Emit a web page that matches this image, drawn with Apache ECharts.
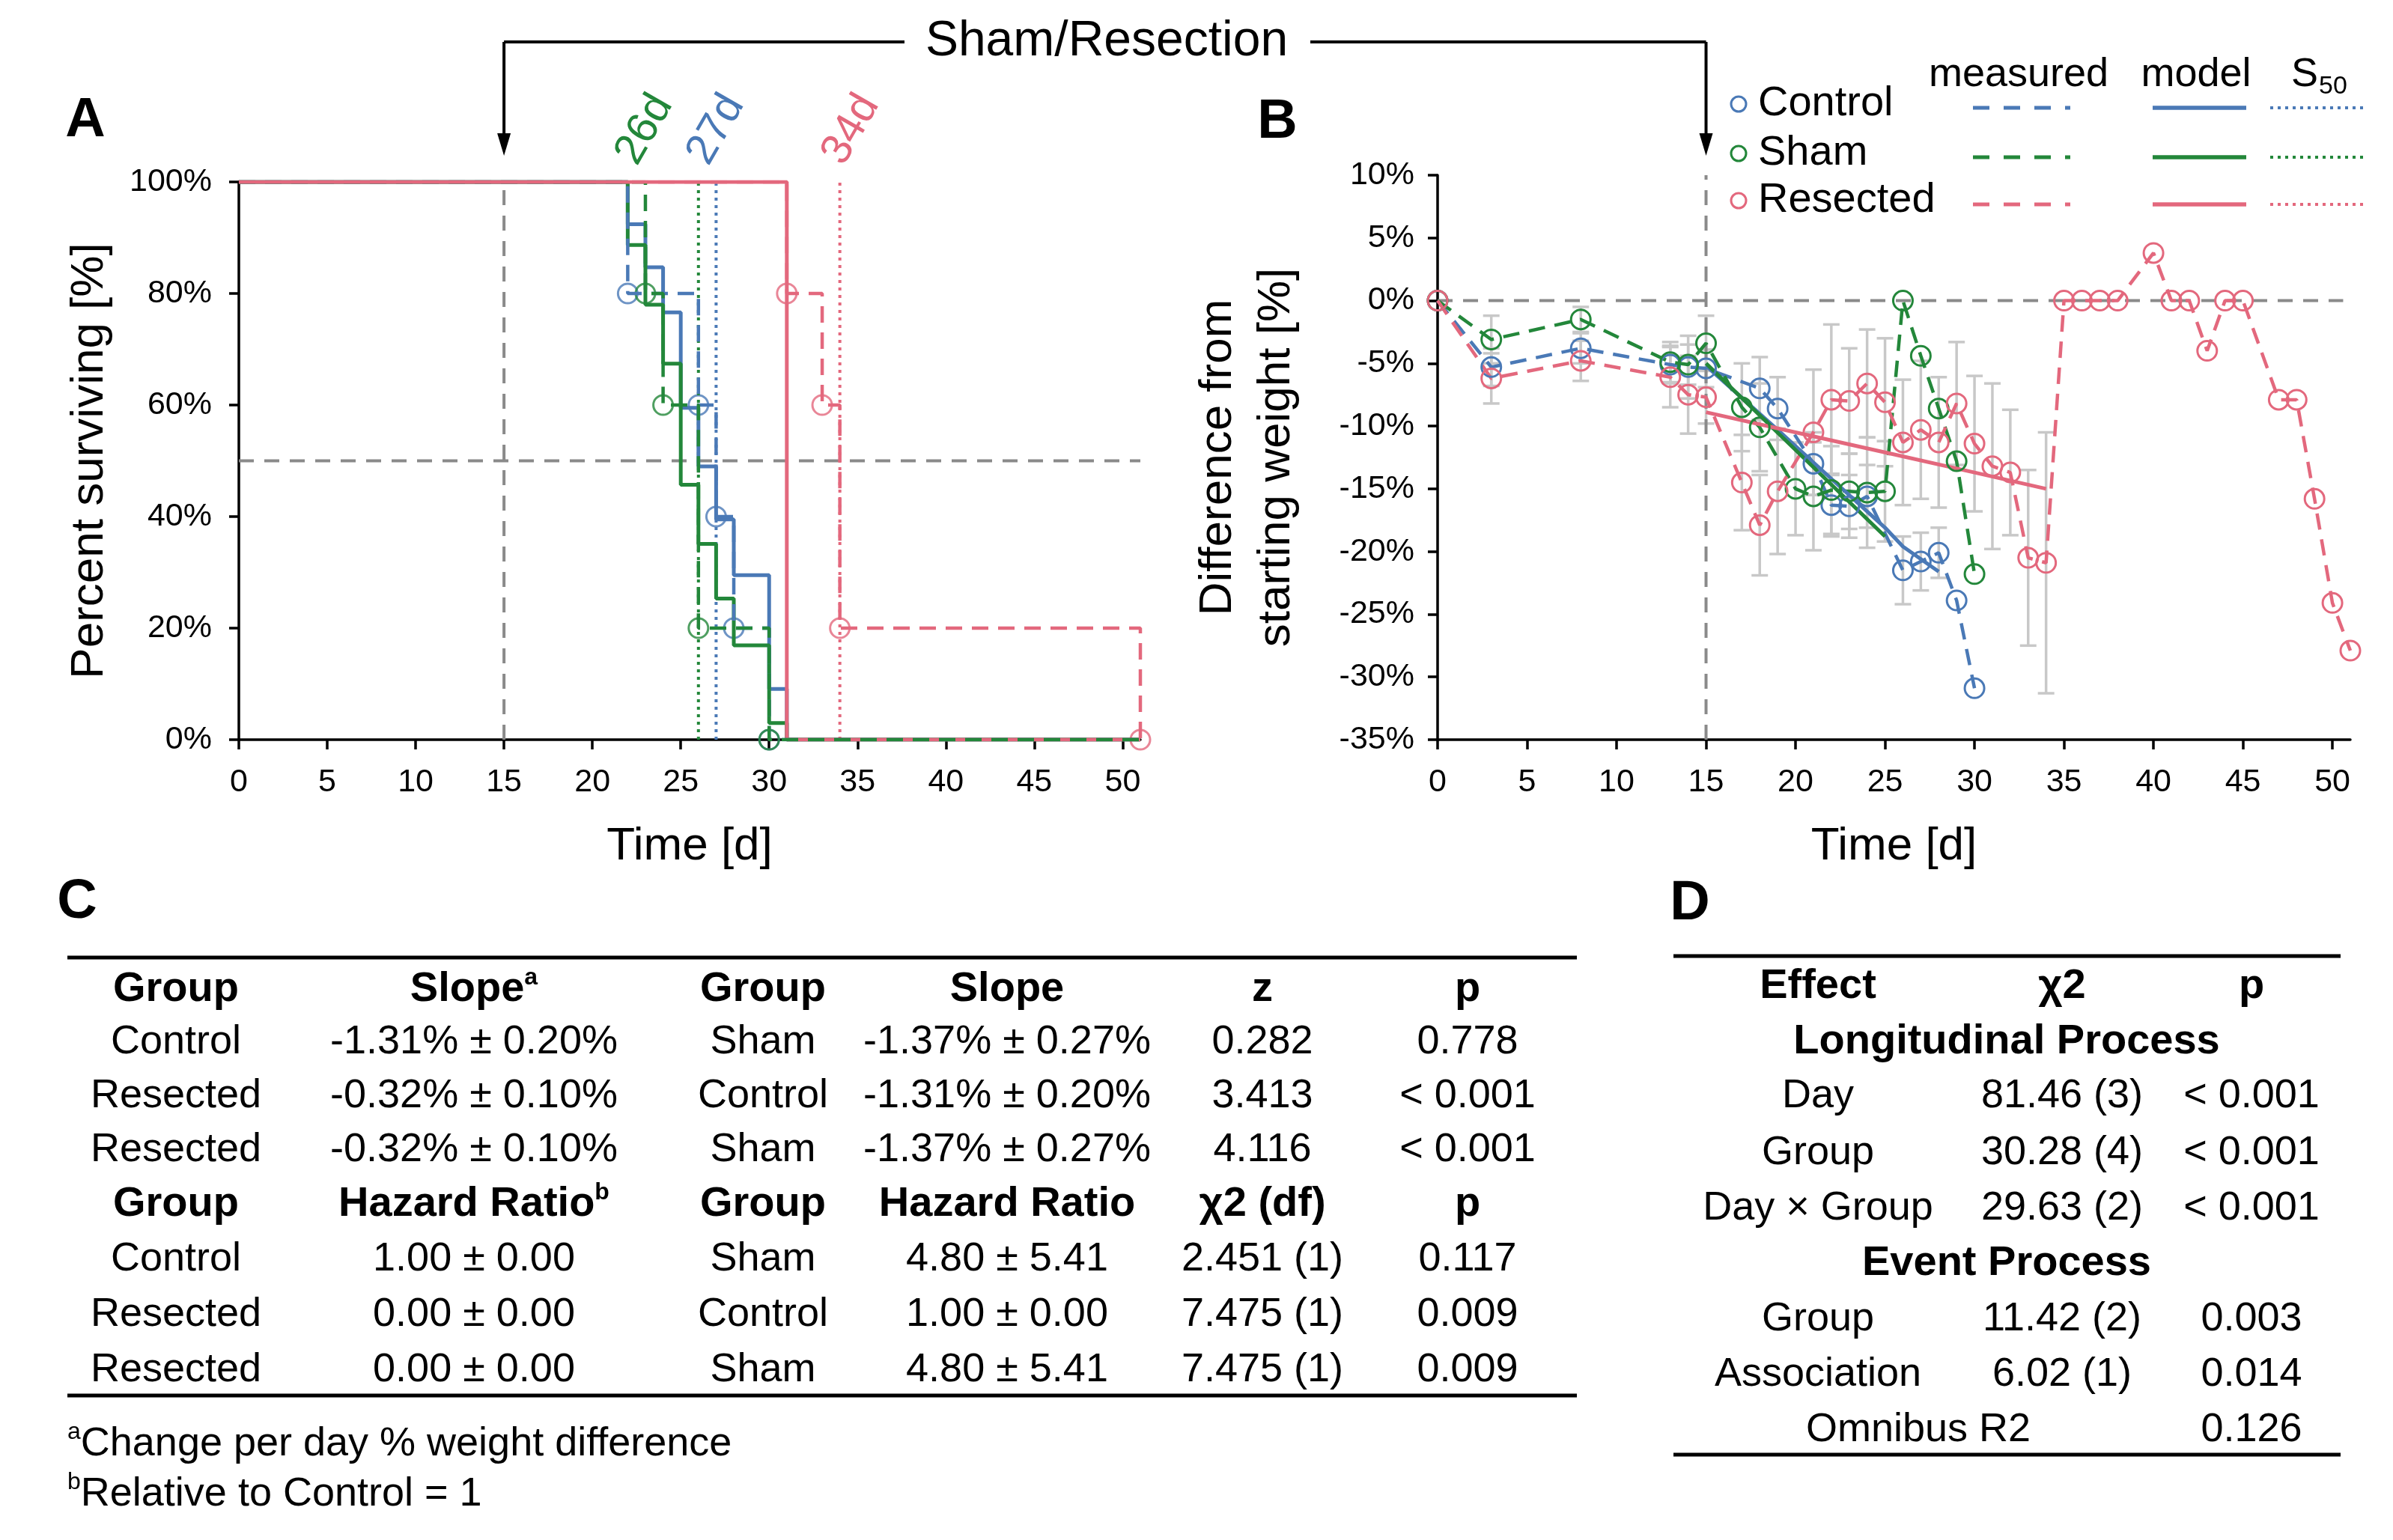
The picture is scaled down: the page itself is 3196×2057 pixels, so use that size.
<!DOCTYPE html>
<html>
<head>
<meta charset="utf-8">
<title>Survival and weight difference</title>
<script src="https://cdn.jsdelivr.net/npm/echarts@6.0.0/dist/echarts.min.js"></script>
<style>
html,body{margin:0;padding:0;background:#ffffff;}
#chart{width:3196px;height:2057px;}
</style>
</head>
<body>
<div id="chart"></div>
<script>
// ================= DATA =================
const groups = ['Control', 'Sham', 'Resected'];
const xTickValues = [0, 5, 10, 15, 20, 25, 30, 35, 40, 45, 50];

// Panel A: Kaplan-Meier survival [%] ([day, survival after that day])
const kmModelControl  = [[0,100],[22,92.4],[23,84.7],[24,76.6],[25,59.5],[26,49],[27,39.5],[28,29.5],[30,9.1],[31,0],[51,0]];
const kmModelSham     = [[0,100],[22,88.7],[23,78],[24,67.4],[25,45.7],[26,35.1],[27,25.3],[28,16.9],[30,3],[31,0],[51,0]];
const kmModelResected = [[0,100],[31,0],[51,0]];
const kmMeasControl   = [[0,100],[22,80],[26,60],[27,40],[28,20],[30,0],[51,0]];
const kmMeasSham      = [[0,100],[23,80],[24,60],[26,20],[30,0],[51,0]];
const kmMeasResected  = [[0,100],[31,80],[33,60],[34,20],[51,0]];
const kmEventsControl  = [[22,80],[26,60],[27,40],[28,20],[30,0]];
const kmEventsSham     = [[23,80],[24,60],[26,20],[30,0]];
const kmEventsResected = [[31,80],[33,60],[34,20],[51,0]];
const s50Control = 27, s50Sham = 26, s50Resected = 34;
const s50Labels = ['27d', '26d', '34d'];
const resectionDay = 15;
const survivalRef = 50;

// Panel B: weight difference from start [%]
const wDaysControl = [0,3,8,13,14,15,18,19,21,22,23,24,26,27,28,29,30];
const wControl     = [0,-5.3,-3.8,-5.1,-5.3,-5.4,-7.0,-8.6,-13.0,-16.3,-16.4,-15.6,-21.5,-20.8,-20.1,-23.9,-30.9];
const wErrControl  = [0,1.5,1.2,1.5,2.5,1.5,2.5,2.5,2.5,2.5,2.5,2.5,2.7,2.3,2.0,0,0];

const wDaysSham = [0,3,8,13,14,15,17,18,20,21,22,23,24,25,26,27,28,29,30];
const wSham     = [0,-3.1,-1.5,-4.9,-5.1,-3.4,-8.5,-10.1,-15.0,-15.6,-15.1,-15.2,-15.3,-15.2,0,-4.4,-8.6,-12.8,-21.8];
const wErrSham  = [0,1.9,1.0,1.6,1.6,2.2,3.5,3.5,3.7,4.3,3.5,3.0,4.4,4.0,0,0,0,0,0];

const wDaysResected = [0,3,8,13,14,15,17,18,19,21,22,23,24,25,26,27,28,29,30,31,32,33,34,35,36,37,38,40,41,42,43,44,45,47,48,49,50,51];
const wResected     = [0,-6.2,-4.8,-6.1,-7.5,-7.7,-14.5,-17.9,-15.2,-10.5,-7.9,-8.0,-6.6,-8.1,-11.3,-10.3,-11.3,-8.2,-11.4,-13.2,-13.7,-20.5,-20.9,0,0,0,0,3.8,0,0,-4.0,0,0,-7.9,-7.9,-15.8,-24.1,-27.9];
const wErrResected  = [0,2.0,1.6,2.4,3.1,2.1,3.8,4.0,5.0,5.0,6.0,4.2,4.3,5.1,5.0,5.5,5.2,4.9,5.4,6.6,5.0,7.0,10.4,0,0,0,0,0,0,0,0,0,0,0,0,0,0,0];

const modelDaysControl  = [15,19,22,25,26,28];
const modelControl      = [-5.2,-10.3,-14.2,-18.1,-19.6,-21.6];
const modelDaysSham     = [15,20,25];
const modelSham         = [-5.0,-11.9,-18.8];
const modelDaysResected = [15,20,25,30,34];
const modelResected     = [-8.9,-10.5,-12.1,-13.7,-15.0];
const weightRef = 0;

// Panel C / D tables
const tableCHead1 = ['Group', 'Slope', 'Group', 'Slope', 'z', 'p'];
const tableCRows1 = [
  ['Control',  '-1.31% ± 0.20%', 'Sham',    '-1.37% ± 0.27%', '0.282', '0.778'],
  ['Resected', '-0.32% ± 0.10%', 'Control', '-1.31% ± 0.20%', '3.413', '< 0.001'],
  ['Resected', '-0.32% ± 0.10%', 'Sham',    '-1.37% ± 0.27%', '4.116', '< 0.001']
];
const tableCHead2 = ['Group', 'Hazard Ratio', 'Group', 'Hazard Ratio', 'χ2 (df)', 'p'];
const tableCRows2 = [
  ['Control',  '1.00 ± 0.00', 'Sham',    '4.80 ± 5.41', '2.451 (1)', '0.117'],
  ['Resected', '0.00 ± 0.00', 'Control', '1.00 ± 0.00', '7.475 (1)', '0.009'],
  ['Resected', '0.00 ± 0.00', 'Sham',    '4.80 ± 5.41', '7.475 (1)', '0.009']
];
const tableCNotes = [['a', 'Change per day % weight difference'], ['b', 'Relative to Control = 1']];
const tableDHead = ['Effect', 'χ2', 'p'];
const tableDSection1 = 'Longitudinal Process';
const tableDRows1 = [['Day', '81.46 (3)', '< 0.001'], ['Group', '30.28 (4)', '< 0.001'], ['Day × Group', '29.63 (2)', '< 0.001']];
const tableDSection2 = 'Event Process';
const tableDRows2 = [['Group', '11.42 (2)', '0.003'], ['Association', '6.02 (1)', '0.014']];
const tableDLast = ['Omnibus R2', '0.126'];

// ================= STYLE =================
const FONT = '"Liberation Sans", Arial, Helvetica, sans-serif';
const COLORS = { Control: '#4a79b6', Sham: '#23873a', Resected: '#e3687d' };
const C_REF = '#8a8a8a', C_ERR = '#c8c8c8';
const DASH_MEAS = [22, 13], DASH_S50 = [4, 6], DASH_REF = [20, 14];

const pairs = (xs, ys) => xs.map((x, i) => [x, ys[i]]);
const errs = (xs, ys, es) => xs.map((x, i) => [x, ys[i] - es[i], ys[i] + es[i]]).filter((d, i) => es[i] > 0);

function axisCommon(fs) {
  return {
    axisLine: { show: true, onZero: false, lineStyle: { color: '#000', width: 3.5 } },
    axisTick: { show: true, inside: false, length: 13, lineStyle: { color: '#000', width: 3.5 } },
    splitLine: { show: false },
    axisLabel: { color: '#000', fontSize: fs, fontFamily: FONT },
    nameTextStyle: { color: '#000', fontSize: 62, fontFamily: FONT }
  };
}

const hollow = (c) => ({ color: 'rgba(255,255,255,0)', borderColor: c, borderWidth: 3 });

const series = [];
// ---- Panel A ----
series.push({ type: 'line', xAxisIndex: 0, yAxisIndex: 0, data: [[0, survivalRef], [51, survivalRef]], showSymbol: false, silent: true,
  lineStyle: { color: C_REF, width: 4, type: DASH_REF } });
series.push({ type: 'line', xAxisIndex: 0, yAxisIndex: 0, data: [[resectionDay, 0], [resectionDay, 100]], showSymbol: false, silent: true,
  lineStyle: { color: C_REF, width: 4, type: DASH_REF } });
[[s50Sham, 'Sham'], [s50Control, 'Control'], [s50Resected, 'Resected']].forEach(([d, g]) => {
  series.push({ type: 'line', name: g + ' S50', xAxisIndex: 0, yAxisIndex: 0, data: [[d, 0], [d, 100]], showSymbol: false,
    lineStyle: { color: COLORS[g], width: 4, type: DASH_S50 } });
});
[[kmModelControl, 'Control'], [kmModelSham, 'Sham'], [kmModelResected, 'Resected']].forEach(([data, g]) => {
  series.push({ type: 'line', name: g + ' model', xAxisIndex: 0, yAxisIndex: 0, step: 'end', data, showSymbol: false,
    lineStyle: { color: COLORS[g], width: 5 } });
});
[[kmMeasControl, 'Control'], [kmMeasSham, 'Sham'], [kmMeasResected, 'Resected']].forEach(([data, g]) => {
  series.push({ type: 'line', name: g + ' measured', xAxisIndex: 0, yAxisIndex: 0, step: 'end', data, showSymbol: false,
    lineStyle: { color: COLORS[g], width: 4.5, type: DASH_MEAS } });
});
[[kmEventsControl, 'Control'], [kmEventsSham, 'Sham'], [kmEventsResected, 'Resected']].forEach(([data, g]) => {
  series.push({ type: 'scatter', name: g + ' events', xAxisIndex: 0, yAxisIndex: 0, data, symbol: 'circle', symbolSize: 26,
    itemStyle: hollow(COLORS[g]), clip: false });
});

// ---- Panel B ----
series.push({ type: 'line', xAxisIndex: 1, yAxisIndex: 1, data: [[0, weightRef], [50.6, weightRef]], showSymbol: false, silent: true,
  lineStyle: { color: C_REF, width: 4, type: DASH_REF } });
series.push({ type: 'line', xAxisIndex: 1, yAxisIndex: 1, data: [[resectionDay, -35], [resectionDay, 10]], showSymbol: false, silent: true,
  lineStyle: { color: C_REF, width: 4, type: DASH_REF } });
series.push({
  type: 'custom', name: 'SD', xAxisIndex: 1, yAxisIndex: 1, silent: true,
  data: [].concat(errs(wDaysResected, wResected, wErrResected), errs(wDaysControl, wControl, wErrControl), errs(wDaysSham, wSham, wErrSham)),
  encode: { x: 0, y: [1, 2] },
  renderItem: function (params, api) {
    const x = api.value(0), lo = api.value(1), hi = api.value(2);
    const p1 = api.coord([x, hi]), p2 = api.coord([x, lo]);
    const w = 11, st = { stroke: C_ERR, lineWidth: 3.5 };
    return { type: 'group', children: [
      { type: 'line', shape: { x1: p1[0], y1: p1[1], x2: p2[0], y2: p2[1] }, style: st },
      { type: 'line', shape: { x1: p1[0] - w, y1: p1[1], x2: p1[0] + w, y2: p1[1] }, style: st },
      { type: 'line', shape: { x1: p2[0] - w, y1: p2[1], x2: p2[0] + w, y2: p2[1] }, style: st }
    ] };
  }
});
[[wDaysControl, wControl, 'Control'], [wDaysSham, wSham, 'Sham'], [wDaysResected, wResected, 'Resected']].forEach(([xs, ys, g]) => {
  series.push({ type: 'line', name: g, xAxisIndex: 1, yAxisIndex: 1, data: pairs(xs, ys), showSymbol: true, symbol: 'circle', symbolSize: 26,
    itemStyle: hollow(COLORS[g]), lineStyle: { color: COLORS[g], width: 4.5, type: DASH_MEAS }, clip: false });
});
[[modelDaysControl, modelControl, 'Control'], [modelDaysSham, modelSham, 'Sham'], [modelDaysResected, modelResected, 'Resected']].forEach(([xs, ys, g]) => {
  series.push({ type: 'line', name: g + ' model (weight)', xAxisIndex: 1, yAxisIndex: 1, data: pairs(xs, ys), showSymbol: false,
    lineStyle: { color: COLORS[g], width: 5 } });
});

const option = {
  animation: false,
  backgroundColor: '#ffffff',
  textStyle: { fontFamily: FONT },
  grid: [
    { left: 319, top: 243, width: 1204, height: 745, containLabel: false, outerBoundsMode: 'none' },
    { left: 1920, top: 234, width: 1219, height: 754, containLabel: false, outerBoundsMode: 'none' }
  ],
  xAxis: [
    Object.assign(axisCommon(43), { gridIndex: 0, type: 'value', min: 0, max: 51, interval: 5,
      name: 'Time [d]', nameLocation: 'middle', nameGap: 112 }),
    Object.assign(axisCommon(43), { gridIndex: 1, type: 'value', min: 0, max: 51, interval: 5,
      name: 'Time [d]', nameLocation: 'middle', nameGap: 112 })
  ],
  yAxis: [
    Object.assign(axisCommon(43), { gridIndex: 0, type: 'value', min: 0, max: 100, interval: 20,
      name: 'Percent surviving [%]', nameLocation: 'middle', nameRotate: 90, nameGap: 168 }),
    Object.assign(axisCommon(43), { gridIndex: 1, type: 'value', min: -35, max: 10, interval: 5,
      name: 'Difference from\nstarting weight [%]', nameLocation: 'middle', nameRotate: 90, nameGap: 176 })
  ],
  series: series
};
option.xAxis.forEach(a => {
  a.axisTick.customValues = xTickValues;
  a.axisLabel.customValues = xTickValues;
  a.axisLabel.margin = 36;
});
option.yAxis[0].axisLabel.formatter = '{value}%';
option.yAxis[0].axisLabel.margin = 36;
option.yAxis[1].axisLabel.formatter = '{value}%';
option.yAxis[1].axisLabel.margin = 31;
option.yAxis[1].nameTextStyle.lineHeight = 78;

const chart = echarts.init(document.getElementById('chart'), null, { renderer: 'canvas' });
chart.setOption(option);

// ================= ANNOTATIONS / TABLES =================
const g = [];
function T(x, y, text, o) {
  o = o || {};
  const st = { text: text, fill: o.color || '#000', fontSize: o.size || 56, fontFamily: FONT,
    fontWeight: o.bold ? 'bold' : 'normal', textAlign: o.align || 'center', align: o.align || 'center',
    textVerticalAlign: 'middle', verticalAlign: 'middle' };
  if (o.rich) st.rich = o.rich;
  g.push({ type: 'text', x: x, y: y, rotation: o.rot || 0, silent: true, z: 100, style: st });
}
function L(x1, y1, x2, y2, o) {
  o = o || {};
  g.push({ type: 'line', silent: true, z: 100, shape: { x1: x1, y1: y1, x2: x2, y2: y2 },
    style: { stroke: o.color || '#000', lineWidth: o.w || 4, lineDash: o.dash || null } });
}
const pA = (v) => chart.convertToPixel({ xAxisIndex: 0, yAxisIndex: 0 }, v);
const pB = (v) => chart.convertToPixel({ xAxisIndex: 1, yAxisIndex: 1 }, v);

// panel letters
T(114, 162, 'A', { size: 74, bold: true });
T(1706, 164, 'B', { size: 74, bold: true });
T(103, 1206, 'C', { size: 74, bold: true });
T(2257, 1208, 'D', { size: 74, bold: true });

// Sham/Resection bracket
const a15 = pA([resectionDay, 100])[0], b15 = pB([resectionDay, 10])[0];
const brY = 56;
T(1478, brY, 'Sham/Resection', { size: 66 });
L(a15, brY, 1208, brY); L(1750, brY, b15, brY);
[a15, b15].forEach(x => {
  L(x, brY, x, 182);
  g.push({ type: 'polygon', silent: true, z: 100, shape: { points: [[x - 9, 178], [x + 9, 178], [x, 208]] }, style: { fill: '#000' } });
});

// S50 labels (rotated)
const s50Info = [[s50Control, 'Control', 0], [s50Sham, 'Sham', -72], [s50Resected, 'Resected', 15]];
s50Info.forEach(([d, grp, dx], i) => {
  const px = pA([d, 100]);
  T(px[0] + dx, 173, s50Labels[i], { size: 58, color: COLORS[grp], rot: Math.PI / 3 });
});

// Panel B legend
const legRows = [139, 205, 268];
groups.forEach((grp, i) => {
  const y = legRows[i], c = COLORS[grp];
  g.push({ type: 'circle', silent: true, z: 100, shape: { cx: 2322, cy: y, r: 10 }, style: { fill: 'none', stroke: c, lineWidth: 3 } });
  T(2348, y, grp, { size: 56, align: 'left' });
  L(2635, y + 5, 2765, y + 5, { color: c, w: 5, dash: [22, 19] });
  L(2875, y + 5, 3000, y + 5, { color: c, w: 5.5 });
  L(3032, y + 5, 3157, y + 5, { color: c, w: 4, dash: [4, 6] });
});
T(2696, 100, 'measured', { size: 54 });
T(2933, 100, 'model', { size: 54 });
T(3060, 100, 'S', { size: 54, align: 'left' });
T(3097, 116, '50', { size: 34, align: 'left' });

// Table C
const richC = {
  h: { fontSize: 56, fontWeight: 'bold', fontFamily: FONT, fill: '#000', lineHeight: 64 },
  s: { fontSize: 32, fontWeight: 'bold', fontFamily: FONT, fill: '#000', lineHeight: 64, verticalAlign: 'top' },
  t: { fontSize: 54, fontFamily: FONT, fill: '#000', lineHeight: 64 },
  n: { fontSize: 32, fontFamily: FONT, fill: '#000', lineHeight: 64, verticalAlign: 'top' }
};
const cColX = [235, 633, 1019, 1345, 1686, 1960];
const cRowY = [1322, 1392, 1464, 1536, 1609, 1682, 1756, 1830];
L(90, 1279, 2106, 1279, { w: 5 });
L(90, 1864, 2106, 1864, { w: 5 });
const supC = { 1: 'a' };
const supC2 = { 1: 'b' };
tableCHead1.forEach((h, j) => {
  if (supC[j]) T(cColX[j], cRowY[0], '{h|' + h + '}{s|' + supC[j] + '}', { rich: richC });
  else T(cColX[j], cRowY[0], h, { bold: true });
});
tableCRows1.forEach((r, i) => r.forEach((v, j) => T(cColX[j], cRowY[1 + i], v, { size: 54 })));
tableCHead2.forEach((h, j) => {
  if (supC2[j]) T(cColX[j], cRowY[4], '{h|' + h + '}{s|' + supC2[j] + '}', { rich: richC });
  else T(cColX[j], cRowY[4], h, { bold: true });
});
tableCRows2.forEach((r, i) => r.forEach((v, j) => T(cColX[j], cRowY[5 + i], v, { size: 54 })));
tableCNotes.forEach((nt, i) => T(90, 1929 + i * 67, '{n|' + nt[0] + '}{t|' + nt[1] + '}', { align: 'left', rich: richC }));

// Table D
const dColX = [2428, 2754, 3007];
const dRowY = [1318, 1392, 1464, 1540, 1614, 1688, 1762, 1836, 1910];
L(2235, 1277, 3126, 1277, { w: 5 });
L(2235, 1943, 3126, 1943, { w: 5 });
tableDHead.forEach((h, j) => T(dColX[j], dRowY[0], h, { bold: true }));
T(2680, dRowY[1], tableDSection1, { bold: true });
tableDRows1.forEach((r, i) => r.forEach((v, j) => T(dColX[j], dRowY[2 + i], v, { size: 54 })));
T(2680, dRowY[5], tableDSection2, { bold: true });
tableDRows2.forEach((r, i) => r.forEach((v, j) => T(dColX[j], dRowY[6 + i], v, { size: 54 })));
T(2562, dRowY[8], tableDLast[0], { size: 54 });
T(dColX[2], dRowY[8], tableDLast[1], { size: 54 });

chart.setOption({ graphic: { elements: g } });
</script>
</body>
</html>
